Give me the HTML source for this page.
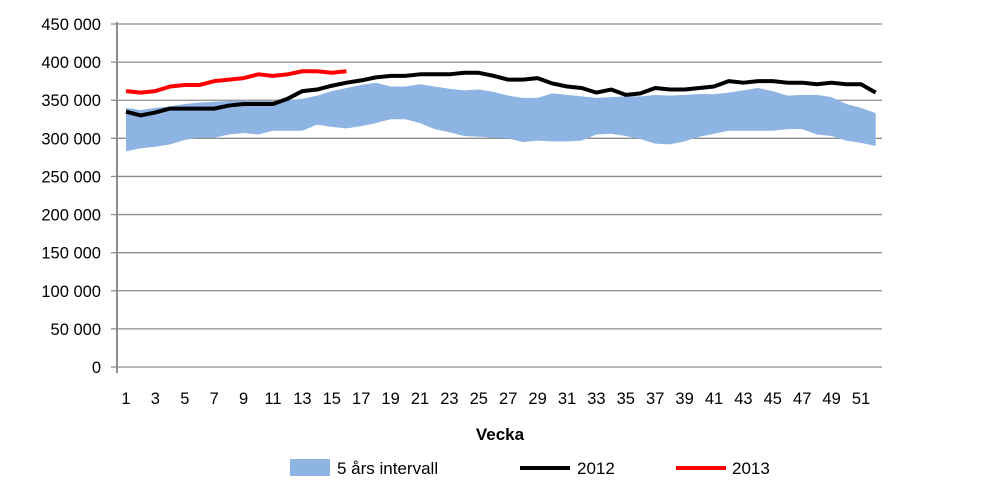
<!DOCTYPE html><html><head><style>body{margin:0;background:#fff}text{font-family:"Liberation Sans",sans-serif}</style></head><body>
<svg id="s" width="997" height="489" xmlns="http://www.w3.org/2000/svg"></svg>
<script>
(function(){
const s=document.getElementById('s');let h='';
const Y=v=>367-v*343/450,X=w=>126+(w-1)*14.7;
for(let v=0;v<=450;v+=50){const y=Y(v);h+=`<line x1="117" x2="882" y1="${y}" y2="${y}" stroke="#8c8c8c" stroke-width="1.3"/>`;
h+=`<line x1="111" x2="117" y1="${y}" y2="${y}" stroke="#8c8c8c" stroke-width="1.3"/>`;
h+=`<text x="101" y="${y+6}" font-size="16.5" text-anchor="end">${v==0?'0':v+' 000'}</text>`;}
const tp=[340,337,340,342,345,347,348,349,349,349,349,350,352,356,362,366,370,373,368,368,371,368,365,363,364,361,356,353,353,359,357,355,353,354,355,355,357,356,357,358,358,360,363,366,362,356,357,357,354,345,340,333];
const bt=[283,287,289,292,298,301,301,305,307,305,310,310,310,318,315,313,316,320,325,325,320,312,308,303,302,301,300,295,297,296,296,297,305,306,303,299,293,292,296,302,306,310,310,310,310,312,312,305,303,297,294,290];
let p='';tp.forEach((v,i)=>p+=`${X(i+1)},${Y(v)} `);for(let i=bt.length-1;i>=0;i--)p+=`${X(i+1)},${Y(bt[i])} `;
h+=`<polygon points="${p}" fill="#8eb4e3"/>`;
const b=[335,330,334,339,339,339,339,343,345,345,345,352,362,364,369,373,376,380,382,382,384,384,384,386,386,382,377,377,379,372,368,366,360,364,357,359,366,364,364,366,368,375,373,375,375,373,373,371,373,371,371,360];
const r=[362,360,362,368,370,370,375,377,379,384,382,384,388,388,386,388];
const pl=(a,c)=>`<polyline points="${a.map((v,i)=>X(i+1)+','+Y(v)).join(' ')}" fill="none" stroke="${c}" stroke-width="4" stroke-linejoin="round"/>`;
h+=pl(b,'#000')+pl(r,'#f00');
h+=`<line x1="117" x2="117" y1="22" y2="373" stroke="#8c8c8c" stroke-width="2"/>`;
for(let w=1;w<=52;w+=2)h+=`<text x="${X(w)}" y="404" font-size="16.5" text-anchor="middle">${w}</text>`;
h+=`<text x="500" y="440" font-size="17" font-weight="bold" text-anchor="middle">Vecka</text>`;
h+=`<rect x="290" y="459" width="40" height="17" fill="#8eb4e3"/><text x="337" y="474" font-size="17">5 års intervall</text>`;
h+=`<line x1="520" x2="570" y1="468" y2="468" stroke="#000" stroke-width="4"/><text x="577" y="474" font-size="17">2012</text>`;
h+=`<line x1="676" x2="726" y1="468" y2="468" stroke="#f00" stroke-width="4"/><text x="732" y="474" font-size="17">2013</text>`;
s.innerHTML=h;
})();
</script></body></html>
